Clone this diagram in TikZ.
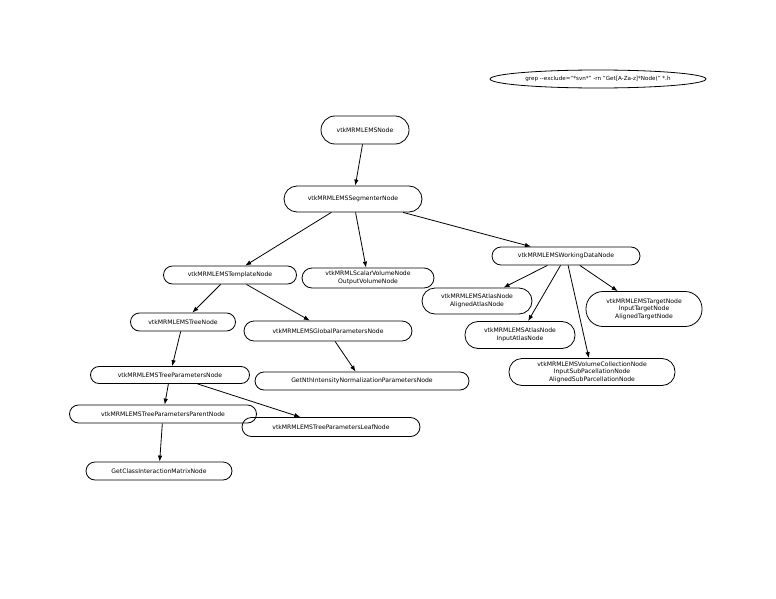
\documentclass[tikz,border=0pt]{standalone}
\usepackage{fontspec}
\setmainfont{DejaVu Sans}
\usetikzlibrary{arrows.meta, shapes.geometric}

\begin{document}
\begin{tikzpicture}[x=1pt, y=-1pt,
    pill/.style={draw, line width=0.8pt, rounded corners=#1, align=center, inner sep=0pt,
                 font=\fontsize{6.1}{7.6}\selectfont},
    pill/.default=9pt,
    link/.style={-{Latex[length=6pt, width=4.5pt]}, line width=0.8pt}]
    \useasboundingbox (0,0) rectangle (776,599);
    % command line
    \node [draw, ellipse, line width=0.8pt, inner sep=0pt, minimum width=216, minimum height=18,
           font=\fontsize{5.6}{7}\selectfont] (grep) at (598,79)
          {grep -{}-exclude="*svn*" -rn "Get[A-Za-z]*Node(" *.h};
    % nodes
    \node [pill=14pt, minimum width=88, minimum height=28] (ems) at (365,130) {vtkMRMLEMSNode};
    \node [pill=13pt, minimum width=138, minimum height=26] (segmenter) at (353,199) {vtkMRMLEMSSegmenterNode};
    \node [pill, minimum width=133, minimum height=18] (template) at (230,275) {vtkMRMLEMSTemplateNode};
    \node [pill=10pt, minimum width=132, minimum height=20] (scalar) at (368,278) {vtkMRMLScalarVolumeNode\\OutputVolumeNode};
    \node [pill, minimum width=148, minimum height=18] (working) at (566,256) {vtkMRMLEMSWorkingDataNode};
    \node [pill=13pt, minimum width=110, minimum height=26] (alignedatlas) at (477,301) {vtkMRMLEMSAtlasNode\\AlignedAtlasNode};
    \node [pill=13pt, minimum width=110, minimum height=27] (inputatlas) at (520,335) {vtkMRMLEMSAtlasNode\\InputAtlasNode};
    \node [pill=17pt, minimum width=116, minimum height=35] (target) at (644,309) {vtkMRMLEMSTargetNode\\InputTargetNode\\AlignedTargetNode};
    \node [pill=13pt, minimum width=166, minimum height=27] (volcoll) at (592,372) {vtkMRMLEMSVolumeCollectionNode\\InputSubPacellationNode\\AlignedSubParcellationNode};
    \node [pill, minimum width=105, minimum height=18] (tree) at (183,322) {vtkMRMLEMSTreeNode};
    \node [pill=10pt, minimum width=168, minimum height=20] (global) at (328,331) {vtkMRMLEMSGlobalParametersNode};
    \node [pill=8.5pt, minimum width=159, minimum height=17] (treeparams) at (170,375) {vtkMRMLEMSTreeParametersNode};
    \node [pill, minimum width=214, minimum height=18] (nthintensity) at (362,381) {GetNthIntensityNormalizationParametersNode};
    \node [pill, minimum width=187, minimum height=18] (parent) at (163,414) {vtkMRMLEMSTreeParametersParentNode};
    \node [pill=9.5pt, minimum width=178, minimum height=19] (leaf) at (331,427) {vtkMRMLEMSTreeParametersLeafNode};
    \node [pill, minimum width=146, minimum height=18] (classinter) at (159,471) {GetClassInteractionMatrixNode};
    % edges
    \draw [link] (ems) -- (segmenter);
    \draw [link] (segmenter) -- (template);
    \draw [link] (segmenter) -- (scalar);
    \draw [link] (segmenter) -- (working);
    \draw [link] (template) -- (tree);
    \draw [link] (template) -- (global);
    \draw [link] (global) -- (nthintensity);
    \draw [link] (tree) -- (treeparams);
    \draw [link] (treeparams) -- (parent);
    \draw [link] (treeparams) -- (leaf);
    \draw [link] (parent) -- (classinter);
    \draw [link] (working) -- (alignedatlas);
    \draw [link] (working) -- (inputatlas);
    \draw [link] (working) -- (volcoll);
    \draw [link] (working) -- (target);
\end{tikzpicture}
\end{document}
